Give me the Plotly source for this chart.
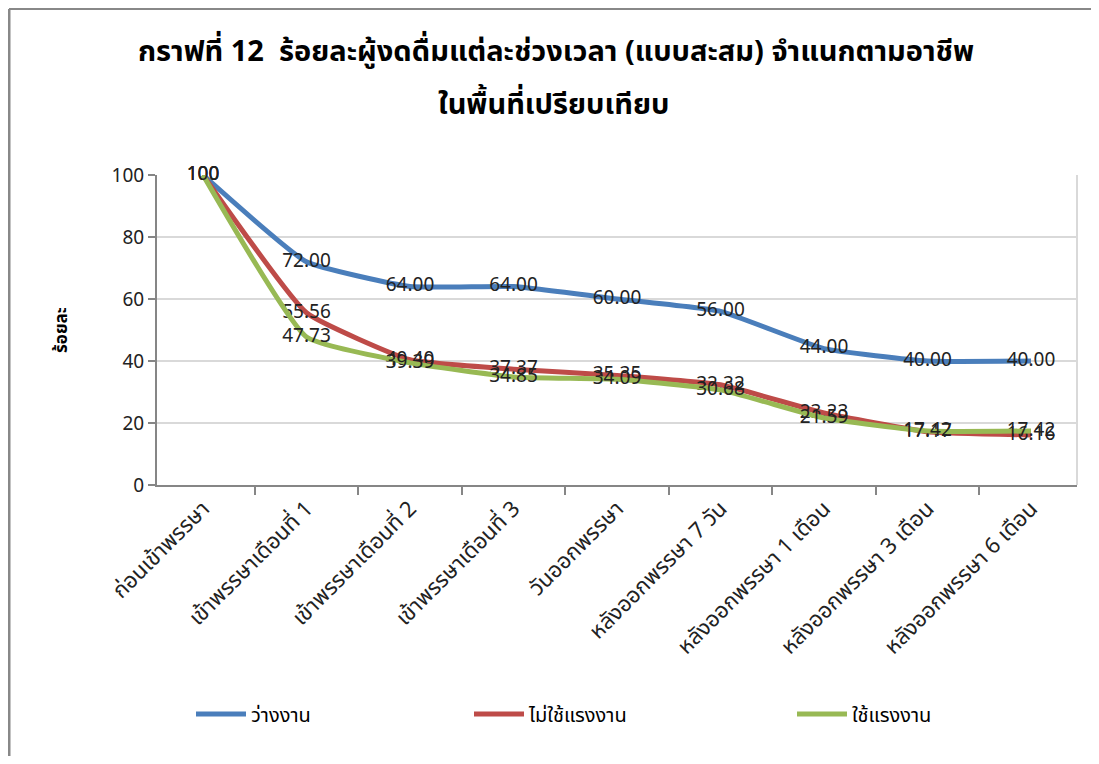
import plotly.graph_objects as go

categories = ["ก่อนเข้าพรรษา", "เข้าพรรษาเดือนที่ 1", "เข้าพรรษาเดือนที่ 2", "เข้าพรรษาเดือนที่ 3",
              "วันออกพรรษา", "หลังออกพรรษา 7 วัน", "หลังออกพรรษา 1 เดือน",
              "หลังออกพรรษา 3 เดือน", "หลังออกพรรษา 6 เดือน"]
unemployed = [100, 72.00, 64.00, 64.00, 60.00, 56.00, 44.00, 40.00, 40.00]
non_labor = [100, 55.56, 40.40, 37.37, 35.35, 32.32, 23.23, 17.17, 16.16]
labor = [100, 47.73, 39.39, 34.85, 34.09, 30.68, 21.59, 17.42, 17.42]
series_names = ["ว่างงาน", "ไม่ใช้แรงงาน", "ใช้แรงงาน"]
colors = ["#4A7EBB", "#BE4B48", "#98B954"]

FONT = "Noto Sans Thai, Tahoma, Noto Sans, sans-serif"

# plot area geometry (figure coords; page body adds 8px offset)
PL, PW, PT, PH = 149, 920, 167, 310
FW, FH = 1083, 748

def px_x(ax):  # absolute page x -> paper
    return (ax - 8 - PL) / PW

def px_y(ay):  # absolute page y -> paper
    return 1 - (ay - 8 - PT) / PH

def fmt(v):
    return "100" if v == 100 else f"{v:.2f}"

legend_keys = ["legend", "legend2", "legend3"]
legend_x = [199, 477, 800]

fig = go.Figure()
for name, vals, col, lk in zip(series_names, [unemployed, non_labor, labor], colors, legend_keys):
    fig.add_trace(go.Scatter(
        x=categories, y=vals, name=name, mode="lines+text",
        line=dict(color=col, width=5, shape="spline", smoothing=0.4),
        text=[fmt(v) for v in vals], textposition="middle center",
        textfont=dict(size=19, color="#222222", family=FONT),
        cliponaxis=False, legend=lk,
    ))

leg_common = dict(orientation="h", yanchor="middle", font=dict(size=20, color="#000000", family=FONT),
                  bgcolor="rgba(0,0,0,0)", itemwidth=50, tracegroupgap=0)
layout_legends = {}
for lk, lx in zip(legend_keys, legend_x):
    layout_legends[lk] = dict(leg_common, x=px_x(lx - 8), xanchor="left", y=px_y(714))

fig.update_layout(
    width=FW, height=FH,
    paper_bgcolor="white", plot_bgcolor="white",
    margin=dict(l=PL, r=FW - PL - PW, t=PT, b=FH - PT - PH),
    font=dict(family=FONT, color="#222222"),
    showlegend=True,
    **layout_legends,
)
fig.add_annotation(text="<b>กราฟที่ 12  ร้อยละผู้งดดื่มแต่ละช่วงเวลา (แบบสะสม) จำแนกตามอาชีพ</b>",
                   xref="paper", yref="paper", x=px_x(556), y=px_y(52), xanchor="center", yanchor="middle",
                   showarrow=False, font=dict(size=29, color="#000000", family=FONT))
fig.add_annotation(text="<b>ในพื้นที่เปรียบเทียบ</b>",
                   xref="paper", yref="paper", x=px_x(553), y=px_y(105), xanchor="center", yanchor="middle",
                   showarrow=False, font=dict(size=29, color="#000000", family=FONT))
fig.add_annotation(text="<b>ร้อยละ</b>", textangle=-90,
                   xref="paper", yref="paper", x=px_x(62), y=px_y(330), xanchor="center", yanchor="middle",
                   showarrow=False, font=dict(size=17, color="#000000", family=FONT))

fig.update_xaxes(
    type="category", tickangle=-45, tickson="boundaries",
    ticks="outside", ticklen=8, tickcolor="#868686", tickwidth=2,
    showline=True, linecolor="#868686", linewidth=2,
    showgrid=False, tickfont=dict(size=22, color="#222222", family=FONT),
)
fig.update_yaxes(
    range=[0, 100], dtick=20, ticks="outside", ticklen=7, tickcolor="#868686", tickwidth=2,
    showline=True, linecolor="#868686", linewidth=2,
    showgrid=True, gridcolor="#D9D9D9", gridwidth=2,
    tickfont=dict(size=19, color="#222222", family=FONT),
    zeroline=False,
)
# right border of plot area
fig.add_shape(type="line", xref="paper", yref="paper", x0=1, x1=1, y0=0, y1=1,
              line=dict(color="#D9D9D9", width=2))
# outer frame (partially cut off)
top = 1 + (PT - 1) / PH
fig.add_shape(type="line", xref="paper", yref="paper",
              x0=-(PL - 1) / PW, x1=(FW - PL) / PW, y0=top, y1=top,
              line=dict(color="#888888", width=2))
fig.add_shape(type="line", xref="paper", yref="paper",
              x0=-(PL - 1) / PW, x1=-(PL - 1) / PW, y0=top, y1=-(FH - PT - PH) / PH,
              line=dict(color="#888888", width=3))

fig.write_html("out.html")
